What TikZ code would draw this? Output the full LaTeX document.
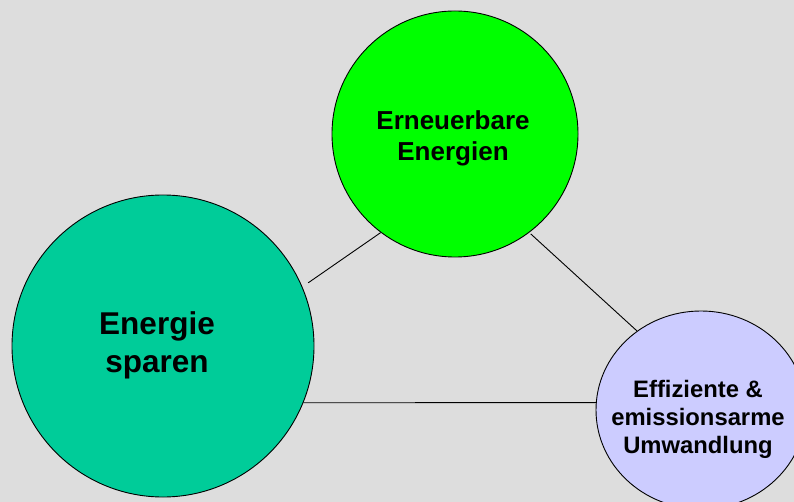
\documentclass[tikz,border=0pt]{standalone}
\usepackage{fontspec}
\setmainfont{Liberation Sans}
\usetikzlibrary{shapes.geometric}
\definecolor{bg}{HTML}{DDDDDD}
\definecolor{tealc}{HTML}{00CC99}
\definecolor{greenc}{HTML}{00FF00}
\definecolor{lavc}{HTML}{CCCCFF}
\begin{document}
\begin{tikzpicture}[x=1pt,y=-1pt,
  bubble/.style={draw=black,line width=0.9pt,inner sep=0pt},
  lbl/.style={align=center,font=\bfseries,inner sep=0pt},
  link/.style={draw=black,line width=0.9pt}]
\fill[bg] (0,0) rectangle (794,502);
\useasboundingbox (0,0) rectangle (794,502);
\node[bubble,circle,fill=tealc,minimum size=302pt] (teal) at (163,346) {};
\node[bubble,circle,fill=greenc,minimum size=246pt] (green) at (455,134) {};
\node[bubble,ellipse,fill=lavc,minimum width=210pt,minimum height=198pt] (lav) at (701,410) {};
\node[lbl,font=\fontsize{31.5}{38}\selectfont\bfseries] (tealtxt) at (157,345) {Energie\\sparen};
\node[lbl,font=\fontsize{26}{31}\selectfont\bfseries] (greentxt) at (453,138) {Erneuerbare\\Energien};
\node[lbl,font=\fontsize{23.8}{28}\selectfont\bfseries] (lavtxt) at (698,419) {Effiziente \&\\emissionsarme\\Umwandlung};
\draw[link,shorten <=7pt] (teal.23.5) -- (green.233.8);
\draw[link,shorten <=2pt] (green.-53) -- (lav.129);
\draw[link] (teal.-22.2) -- (lav.176);
\end{tikzpicture}
\end{document}
